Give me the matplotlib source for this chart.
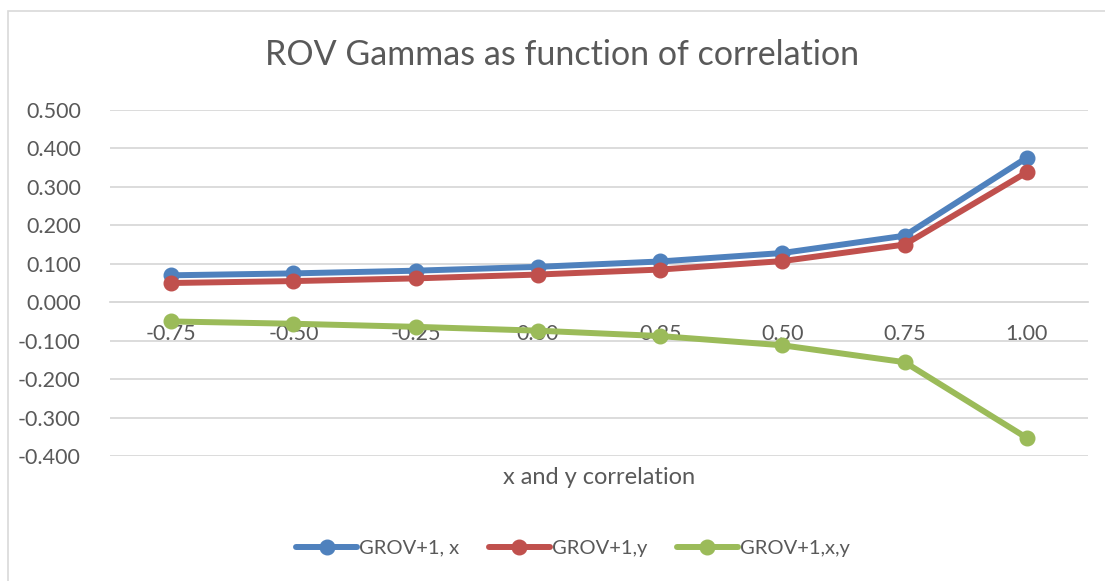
import matplotlib
matplotlib.use("Agg")
import matplotlib.pyplot as plt
from matplotlib.patches import Rectangle

categories = ["-0.75", "-0.50", "-0.25", "0.00", "0.25", "0.50", "0.75", "1.00"]
grov_x = [0.070, 0.075, 0.082, 0.092, 0.106, 0.128, 0.173, 0.376]
grov_y = [0.050, 0.055, 0.062, 0.072, 0.085, 0.107, 0.150, 0.338]
grov_xy = [-0.050, -0.056, -0.064, -0.074, -0.088, -0.112, -0.156, -0.353]
series_names = ["GROV+1, x", "GROV+1,y", "GROV+1,x,y"]
colors = ["#4F81BD", "#C0504D", "#9BBB59"]
yticks = [-0.4, -0.3, -0.2, -0.1, 0.0, 0.1, 0.2, 0.3, 0.4, 0.5]

plt.rcParams['font.family'] = ['Lato', 'DejaVu Sans']
W, H = 1105, 581
fig = plt.figure(figsize=(W / 100, H / 100), dpi=100)
fig.patch.set_facecolor("white")
fig.patches.append(Rectangle((8 / W, -0.05), 1.2, 1 - 11 / H + 0.05, transform=fig.transFigure,
                             fill=False, edgecolor="#D9D9D9", linewidth=1.2))

ax = fig.add_axes([110 / W, 1 - 456 / H, (1088 - 110) / W, (456 - 110) / H])
x = list(range(len(categories)))
for vals, name, c in zip([grov_x, grov_y, grov_xy], series_names, colors):
    ax.plot(x, vals, color=c, linewidth=4.3, marker="o", markersize=10.5,
            label=name, solid_capstyle="round", zorder=3)

ax.set_xlim(-0.5, len(categories) - 0.5)
ax.set_ylim(-0.4, 0.5)
ax.set_yticks(yticks)
ax.set_yticklabels([f"{v:.3f}" for v in yticks])
ax.yaxis.grid(True, color="#D9D9D9", linewidth=1.3)
ax.set_axisbelow(True)
for s in ["left", "right", "top"]:
    ax.spines[s].set_visible(False)
ax.spines["bottom"].set_position(("data", 0))
ax.spines["bottom"].set_color("#D9D9D9")
ax.spines["bottom"].set_linewidth(1.3)
ax.set_xticks(x)
ax.set_xticklabels(categories)
ax.tick_params(axis="x", length=0, pad=16, labelsize=15.5, labelcolor="#595959")
ax.tick_params(axis="y", length=0, pad=21, labelsize=15.5, labelcolor="#595959")
ax.set_facecolor("white")

fig.text(599 / W, 1 - 478 / H, "x and y correlation", ha="center", va="center",
         fontsize=17, color="#595959")
fig.text(562 / W, 1 - 55 / H, "ROV Gammas as function of correlation", ha="center", va="center",
         fontsize=24.5, color="#595959")

leg = fig.legend(loc="center", bbox_to_anchor=(573 / W, 1 - 548 / H), ncol=3, frameon=False,
                 fontsize=14.5, handlelength=3.0, columnspacing=1.5, handletextpad=0.1,
                 labelcolor="#595959")

fig.savefig("out.png", dpi=100)
